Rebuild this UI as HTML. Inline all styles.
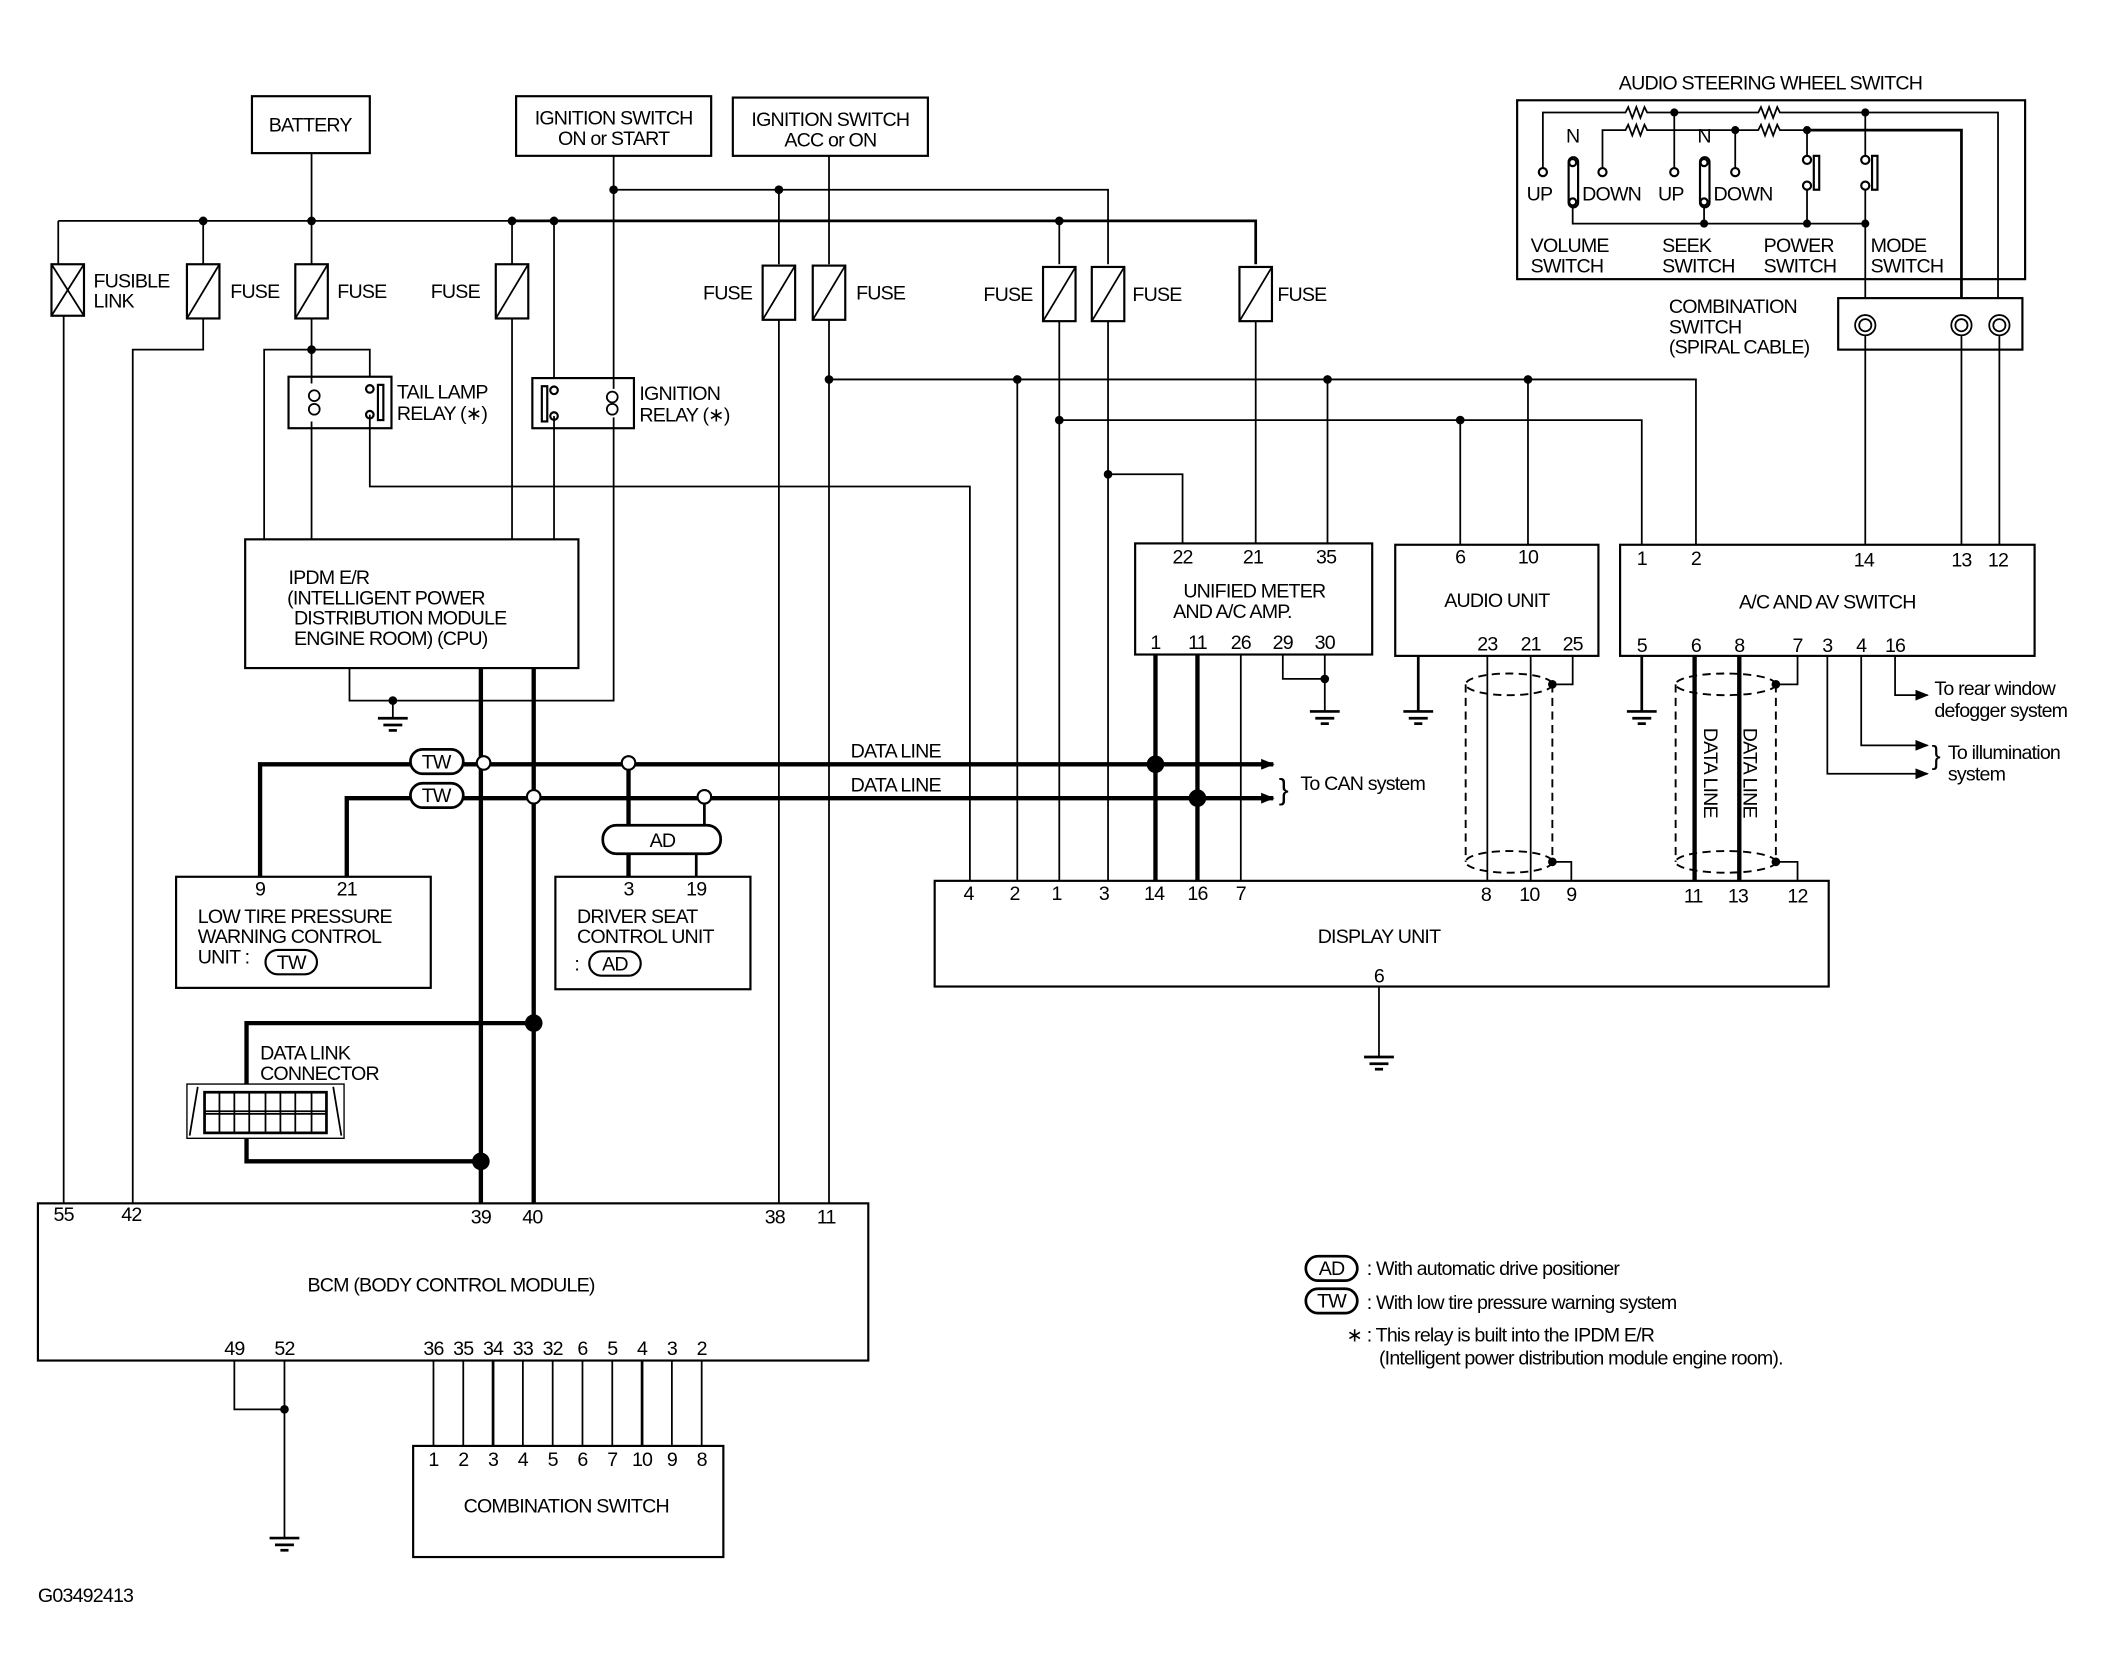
<!DOCTYPE html>
<html><head><meta charset="utf-8"><style>
html,body{margin:0;padding:0;background:#fff;}
svg{display:block;}
text{font-family:"Liberation Sans",sans-serif;font-size:14.5px;fill:#000;letter-spacing:-0.6px;}
.t{stroke:#000;stroke-width:1.3;fill:none;}
.k{stroke:#000;stroke-width:3.2;fill:none;}
.m{stroke:#000;stroke-width:2;fill:none;}
.d{stroke:#000;stroke-width:1.4;fill:none;stroke-dasharray:6 4;}
.b{stroke:#000;stroke-width:1.6;fill:#fff;}
</style></head><body>
<svg width="2124" height="1679" viewBox="0 0 1568 1239" preserveAspectRatio="none" xmlns="http://www.w3.org/2000/svg">
<defs>
<g id="fuse"><rect x="-12" y="0" width="24" height="40" class="b"/><line x1="-12" y1="40" x2="12" y2="0" class="t"/></g>
<g id="gnd"><line x1="-11" y1="0" x2="11" y2="0" class="m"/><line x1="-7" y1="5" x2="7" y2="5" class="m"/><line x1="-3" y1="9" x2="3" y2="9" class="m"/></g>
<marker id="ar" markerWidth="10" markerHeight="8" refX="9" refY="4" orient="auto" markerUnits="userSpaceOnUse"><path d="M0,0 L10,4 L0,8 z" fill="#000"/></marker>
</defs>

<!-- top boxes -->
<rect x="186" y="71" width="87" height="42" class="b"/><text x="229" y="97" text-anchor="middle">BATTERY</text>
<rect x="381" y="71" width="144" height="44" class="b"/><text x="453" y="92" text-anchor="middle">IGNITION SWITCH</text><text x="453" y="107" text-anchor="middle">ON or START</text>
<rect x="541" y="72" width="144" height="43" class="b"/><text x="613" y="93" text-anchor="middle">IGNITION SWITCH</text><text x="613" y="108" text-anchor="middle">ACC or ON</text>

<!-- buses -->
<path d="M230,113 V195" class="t"/>
<path d="M43,163 H378" class="t"/>
<path d="M378,163 H927 V195" class="m"/>
<path d="M453,115 V140 H818 V195" class="t"/>
<path d="M612,115 V195" class="t"/>
<path d="M575,140 V195" class="t"/>
<path d="M782,163 V195" class="t"/>
<g fill="#000"><circle cx="150" cy="163" r="3.2"/><circle cx="230" cy="163" r="3.2"/><circle cx="378" cy="163" r="3.2"/><circle cx="409" cy="163" r="3.2"/><circle cx="453" cy="140" r="3.2"/><circle cx="575" cy="140" r="3.2"/><circle cx="782" cy="163" r="3.2"/></g>
<path d="M150,163 V195" class="t"/><path d="M378,163 V195" class="t"/><path d="M409,163 V280" class="t"/>

<!-- fusible link -->
<rect x="38" y="195" width="24" height="38" class="b"/><line x1="38" y1="195" x2="62" y2="233" class="t"/><line x1="62" y1="195" x2="38" y2="233" class="t"/>
<path d="M43,163 V195 M47,233 V888" class="t"/>
<text x="69" y="212">FUSIBLE</text><text x="69" y="227">LINK</text>
<use href="#fuse" x="150" y="195"/><text x="170" y="220">FUSE</text>
<use href="#fuse" x="230" y="195"/><text x="249" y="220">FUSE</text>
<use href="#fuse" x="378" y="195"/><text x="318" y="220">FUSE</text>
<use href="#fuse" x="575" y="196"/><text x="519" y="221">FUSE</text>
<use href="#fuse" x="612" y="196"/><text x="632" y="221">FUSE</text>
<use href="#fuse" x="782" y="197"/><text x="726" y="222">FUSE</text>
<use href="#fuse" x="818" y="197"/><text x="836" y="222">FUSE</text>
<use href="#fuse" x="927" y="197"/><text x="943" y="222">FUSE</text>

<!-- left feeds -->
<path d="M150,235 V258 H98 V888" class="t"/>
<path d="M230,235 V278 M195,398 V258 H273 V278" class="t"/><circle cx="230" cy="258" r="3.2"/>
<!-- tail lamp relay -->
<rect x="213" y="278" width="76" height="38" class="b"/>
<path d="M230,278 V283 M230,311 V398" class="t"/>
<circle cx="232" cy="292" r="4" class="t"/><circle cx="232" cy="302" r="4" class="t"/>
<circle cx="273" cy="287" r="2.8" class="b"/><circle cx="273" cy="306" r="2.8" class="b"/>
<rect x="279" y="284" width="4" height="26" class="b"/>
<path d="M273,306 V359 H716 V650" class="t"/>
<text x="293" y="294">TAIL LAMP</text><text x="293" y="310">RELAY (∗)</text>
<!-- ignition relay -->
<rect x="393" y="279" width="75" height="37" class="b"/>
<rect x="400" y="285" width="4" height="26" class="b"/>
<circle cx="409" cy="288" r="2.8" class="b"/><circle cx="409" cy="307" r="2.8" class="b"/>
<path d="M409,307 V398" class="t"/>
<circle cx="452" cy="293" r="4" class="t"/><circle cx="452" cy="302" r="4" class="t"/>
<path d="M453,140 V287 M453,308 V517 H258 V493" class="t"/><circle cx="290" cy="517" r="3.2"/>
<path d="M290,517 V530" class="t"/><use href="#gnd" x="290" y="530"/>
<text x="472" y="295">IGNITION</text><text x="472" y="311">RELAY (∗)</text>
<path d="M378,235 V398" class="t"/>

<!-- IPDM -->
<rect x="181" y="398" width="246" height="95" class="b"/>
<text x="213" y="431">IPDM E/R</text><text x="212" y="446">(INTELLIGENT POWER</text><text x="217" y="461">DISTRIBUTION MODULE</text><text x="217" y="476">ENGINE ROOM) (CPU)</text>

<!-- ACC lines to BCM -->
<path d="M575,236 V888 M612,236 V888" class="t"/>
<path d="M612,280 H1252 V402" class="t"/>
<path d="M782,237 V650 M782,310 H1212 V402" class="t"/>
<path d="M818,237 V650 M818,350 H873 V401" class="t"/>
<path d="M927,237 V401" class="t"/>
<path d="M751,280 V650 M980,280 V401 M1128,280 V402 M1078,310 V402" class="t"/>
<g fill="#000"><circle cx="612" cy="280" r="3.2"/><circle cx="751" cy="280" r="3.2"/><circle cx="980" cy="280" r="3.2"/><circle cx="1128" cy="280" r="3.2"/><circle cx="782" cy="310" r="3.2"/><circle cx="1078" cy="310" r="3.2"/><circle cx="818" cy="350" r="3.2"/></g>

<!-- Unified meter -->
<rect x="838" y="401" width="175" height="82" class="b"/>
<text x="873" y="416" text-anchor="middle">22</text><text x="925" y="416" text-anchor="middle">21</text><text x="979" y="416" text-anchor="middle">35</text>
<text x="926" y="441" text-anchor="middle">UNIFIED METER</text><text x="866" y="456">AND A/C AMP.</text>
<text x="853" y="479" text-anchor="middle">1</text><text x="884" y="479" text-anchor="middle">11</text><text x="916" y="479" text-anchor="middle">26</text><text x="947" y="479" text-anchor="middle">29</text><text x="978" y="479" text-anchor="middle">30</text>
<path d="M947,483 V501 H978 M978,483 V525" class="t"/><circle cx="978" cy="501" r="3.2"/><use href="#gnd" x="978" y="525"/>
<path d="M853,483 V650 M884,483 V650" class="k"/>
<path d="M916,483 V650" class="t"/>

<!-- Audio unit -->
<rect x="1030" y="402" width="150" height="82" class="b"/>
<text x="1078" y="416" text-anchor="middle">6</text><text x="1128" y="416" text-anchor="middle">10</text>
<text x="1105" y="448" text-anchor="middle">AUDIO UNIT</text>
<text x="1098" y="480" text-anchor="middle">23</text><text x="1130" y="480" text-anchor="middle">21</text><text x="1161" y="480" text-anchor="middle">25</text>
<path d="M1047,484 V525" class="m"/><use href="#gnd" x="1047" y="525"/>
<path d="M1098,484 V650 M1130,484 V650" class="t"/>
<path d="M1161,484 V505 H1146 M1146,636 H1160 V650" class="t"/>
<ellipse cx="1114" cy="505" rx="32" ry="8" class="d"/><ellipse cx="1114" cy="636" rx="32" ry="8" class="d"/>
<path d="M1082,505 V636 M1146,505 V636" class="d"/>
<circle cx="1146" cy="505" r="3.2"/><circle cx="1146" cy="636" r="3.2"/>

<!-- A/C and AV switch -->
<rect x="1196" y="402" width="306" height="82" class="b"/>
<text x="1212" y="417" text-anchor="middle">1</text><text x="1252" y="417" text-anchor="middle">2</text><text x="1376" y="418" text-anchor="middle">14</text><text x="1448" y="418" text-anchor="middle">13</text><text x="1475" y="418" text-anchor="middle">12</text>
<text x="1349" y="449" text-anchor="middle">A/C AND AV SWITCH</text>
<text x="1212" y="481" text-anchor="middle">5</text><text x="1252" y="481" text-anchor="middle">6</text><text x="1284" y="481" text-anchor="middle">8</text><text x="1327" y="481" text-anchor="middle">7</text><text x="1349" y="481" text-anchor="middle">3</text><text x="1374" y="481" text-anchor="middle">4</text><text x="1399" y="481" text-anchor="middle">16</text>
<path d="M1212,484 V525" class="m"/><use href="#gnd" x="1212" y="525"/>
<path d="M1251,484 V650 M1284,484 V650" class="k"/>
<path d="M1327,484 V505 H1311 M1311,636 H1327 V650" class="t"/>
<ellipse cx="1274" cy="505" rx="37" ry="8" class="d"/><ellipse cx="1274" cy="636" rx="37" ry="8" class="d"/>
<path d="M1237,505 V636 M1311,505 V636" class="d"/>
<circle cx="1311" cy="505" r="3.2"/><circle cx="1311" cy="636" r="3.2"/>
<text transform="translate(1258,537) rotate(90)">DATA LINE</text>
<text transform="translate(1287,537) rotate(90)">DATA LINE</text>
<path d="M1349,484 V571 H1423" class="t" marker-end="url(#ar)"/>
<path d="M1374,484 V550 H1423" class="t" marker-end="url(#ar)"/>
<path d="M1399,484 V513 H1423" class="t" marker-end="url(#ar)"/>
<text x="1428" y="513">To rear window</text><text x="1428" y="529">defogger system</text>
<text x="1426" y="564" style="font-size:20px">}</text>
<text x="1438" y="560">To illumination</text><text x="1438" y="576">system</text>

<!-- Audio steering wheel switch -->
<text x="1307" y="66" text-anchor="middle">AUDIO STEERING WHEEL SWITCH</text>
<rect x="1120" y="74" width="375" height="132" class="b"/>
<path d="M1139,124 V83 H1200 l2,-4 3,8 3,-8 3,8 3,-8 2,4 H1298 l2,-4 3,8 3,-8 3,8 3,-8 2,4 H1475 V220" class="t"/>
<path d="M1183,124 V96 H1200 l2,-4 3,8 3,-8 3,8 3,-8 2,4 H1298 l2,-4 3,8 3,-8 3,8 3,-8 2,4 H1334" class="t"/>
<path d="M1334,96 H1448 V220" class="m"/>
<path d="M1236,83 V124 M1281,96 V124" class="t"/>
<g fill="#000"><circle cx="1236" cy="83" r="3"/><circle cx="1377" cy="83" r="3"/><circle cx="1281" cy="96" r="3"/><circle cx="1334" cy="96" r="3"/><circle cx="1258" cy="165" r="3"/><circle cx="1334" cy="165" r="3"/><circle cx="1377" cy="165" r="3"/></g>
<circle cx="1139" cy="127" r="3" class="b"/><circle cx="1183" cy="127" r="3" class="b"/><circle cx="1236" cy="127" r="3" class="b"/><circle cx="1281" cy="127" r="3" class="b"/>
<rect x="1158" y="116" width="7" height="37" rx="3.5" class="b"/><circle cx="1161" cy="120" r="2.6" class="b"/><circle cx="1161" cy="149" r="2.6" class="b"/>
<rect x="1255" y="116" width="7" height="37" rx="3.5" class="b"/><circle cx="1258" cy="120" r="2.6" class="b"/><circle cx="1258" cy="149" r="2.6" class="b"/>
<path d="M1161,152 V165 H1377 M1258,152 V165" class="t"/>
<path d="M1334,96 V115 M1334,140 V165 M1377,83 V115 M1377,140 V220" class="t"/>
<circle cx="1334" cy="118" r="3" class="b"/><circle cx="1334" cy="137" r="3" class="b"/><rect x="1339" y="115" width="4" height="25" class="b"/>
<circle cx="1377" cy="118" r="3" class="b"/><circle cx="1377" cy="137" r="3" class="b"/><rect x="1382" y="115" width="4" height="25" class="b"/>
<text x="1161" y="105" text-anchor="middle">N</text><text x="1258" y="105" text-anchor="middle">N</text>
<text x="1127" y="148">UP</text><text x="1168" y="148">DOWN</text><text x="1224" y="148">UP</text><text x="1265" y="148">DOWN</text>
<text x="1130" y="186">VOLUME</text><text x="1130" y="201">SWITCH</text>
<text x="1227" y="186">SEEK</text><text x="1227" y="201">SWITCH</text>
<text x="1302" y="186">POWER</text><text x="1302" y="201">SWITCH</text>
<text x="1381" y="186">MODE</text><text x="1381" y="201">SWITCH</text>
<!-- combination switch spiral -->
<rect x="1357" y="220" width="136" height="38" class="b"/>
<text x="1232" y="231">COMBINATION</text><text x="1232" y="246">SWITCH</text><text x="1232" y="261">(SPIRAL CABLE)</text>
<g class="t"><circle cx="1377" cy="240" r="7.5"/><circle cx="1377" cy="240" r="4.5"/><circle cx="1448" cy="240" r="7.5"/><circle cx="1448" cy="240" r="4.5"/><circle cx="1476" cy="240" r="7.5"/><circle cx="1476" cy="240" r="4.5"/></g>
<path d="M1377,248 V402 M1448,248 V402 M1476,248 V402" class="t"/>

<!-- data lines -->
<path d="M192,647 V564 H940" class="k" marker-end="url(#ar)"/>
<path d="M256,647 V589 H940" class="k" marker-end="url(#ar)"/>
<rect x="303" y="553" width="39" height="18" rx="9" class="b" style="stroke-width:2"/><text x="322" y="567" text-anchor="middle">TW</text>
<rect x="303" y="578" width="39" height="18" rx="9" class="b" style="stroke-width:2"/><text x="322" y="592" text-anchor="middle">TW</text>
<text x="628" y="559">DATA LINE</text><text x="628" y="584">DATA LINE</text>
<text x="944" y="590" style="font-size:22px">}</text><text x="960" y="583">To CAN system</text>
<path d="M355,493 V888 M394,493 V888" class="k"/>
<path d="M464,564 V647" class="k"/><path d="M520,589 V609 M514,630 V647" class="m"/>
<circle cx="357" cy="563" r="5" class="b"/><circle cx="394" cy="588" r="5" class="b"/><circle cx="464" cy="563" r="5" class="b"/><circle cx="520" cy="588" r="5" class="b"/>
<circle cx="853" cy="564" r="6.5"/><circle cx="884" cy="589" r="6.5"/>
<rect x="445" y="609" width="87" height="21" rx="10" class="b" style="stroke-width:2"/><text x="489" y="625" text-anchor="middle">AD</text>

<!-- low tire & driver seat -->
<rect x="130" y="647" width="188" height="82" class="b"/>
<text x="192" y="661" text-anchor="middle">9</text><text x="256" y="661" text-anchor="middle">21</text>
<text x="146" y="681">LOW TIRE PRESSURE</text><text x="146" y="696">WARNING CONTROL</text><text x="146" y="711">UNIT :</text>
<rect x="196" y="701" width="38" height="18" rx="9" class="b"/><text x="215" y="715" text-anchor="middle">TW</text>
<rect x="410" y="647" width="144" height="83" class="b"/>
<text x="464" y="661" text-anchor="middle">3</text><text x="514" y="661" text-anchor="middle">19</text>
<text x="426" y="681">DRIVER SEAT</text><text x="426" y="696">CONTROL UNIT</text><text x="424" y="716">:</text>
<rect x="435" y="702" width="38" height="18" rx="9" class="b"/><text x="454" y="716" text-anchor="middle">AD</text>

<!-- data link connector -->
<path d="M394,755 H182 V800 M182,840 V857 H355" class="k"/>
<circle cx="394" cy="755" r="6.5"/><circle cx="355" cy="857" r="6.5"/>
<text x="192" y="782">DATA LINK</text><text x="192" y="797">CONNECTOR</text>
<path d="M138,800 H254 L254,840 H138 Z" class="b" style="stroke-width:1"/>
<path d="M146,802 L140,838 M246,802 L252,838" class="t"/>
<rect x="151" y="806" width="90" height="30" class="m"/>
<path d="M151,820 H241 M151,822 H241" class="t"/>
<path d="M162,806 V836 M173,806 V836 M184,806 V836 M196,806 V836 M207,806 V836 M218,806 V836 M230,806 V836" class="t"/>

<!-- Display unit -->
<rect x="690" y="650" width="660" height="78" class="b"/>
<g text-anchor="middle"><text x="715" y="664">4</text><text x="749" y="664">2</text><text x="780" y="664">1</text><text x="815" y="664">3</text><text x="852" y="664">14</text><text x="884" y="664">16</text><text x="916" y="664">7</text><text x="1097" y="665">8</text><text x="1129" y="665">10</text><text x="1160" y="665">9</text><text x="1250" y="666">11</text><text x="1283" y="666">13</text><text x="1327" y="666">12</text>
<text x="1018" y="696">DISPLAY UNIT</text><text x="1018" y="725">6</text></g>
<path d="M1018,728 V780" class="t"/><use href="#gnd" x="1018" y="780"/>

<!-- BCM -->
<rect x="28" y="888" width="613" height="116" class="b"/>
<g text-anchor="middle"><text x="47" y="901">55</text><text x="97" y="901">42</text><text x="355" y="903">39</text><text x="393" y="903">40</text><text x="572" y="903">38</text><text x="610" y="903">11</text>
<text x="333" y="953">BCM (BODY CONTROL MODULE)</text>
<text x="173" y="1000">49</text><text x="210" y="1000">52</text>
<text x="320" y="1000">36</text><text x="342" y="1000">35</text><text x="364" y="1000">34</text><text x="386" y="1000">33</text><text x="408" y="1000">32</text><text x="430" y="1000">6</text><text x="452" y="1000">5</text><text x="474" y="1000">4</text><text x="496" y="1000">3</text><text x="518" y="1000">2</text></g>
<path d="M173,1004 V1040 H210 M210,1004 V1135" class="t"/><circle cx="210" cy="1040" r="3.2"/><use href="#gnd" x="210" y="1135"/>
<path d="M320,1004 V1067 M342,1004 V1067 M386,1004 V1067 M408,1004 V1067 M430,1004 V1067 M452,1004 V1067 M496,1004 V1067 M518,1004 V1067" class="t"/>
<path d="M364,1004 V1067 M474,1004 V1067" class="m"/>
<rect x="305" y="1067" width="229" height="82" class="b"/>
<g text-anchor="middle"><text x="320" y="1082">1</text><text x="342" y="1082">2</text><text x="364" y="1082">3</text><text x="386" y="1082">4</text><text x="408" y="1082">5</text><text x="430" y="1082">6</text><text x="452" y="1082">7</text><text x="474" y="1082">10</text><text x="496" y="1082">9</text><text x="518" y="1082">8</text>
<text x="418" y="1116">COMBINATION SWITCH</text></g>

<!-- legend -->
<rect x="964" y="927" width="38" height="18" rx="9" class="b" style="stroke-width:2"/><text x="983" y="941" text-anchor="middle">AD</text>
<text x="1009" y="941">: With automatic drive positioner</text>
<rect x="964" y="951" width="38" height="18" rx="9" class="b" style="stroke-width:2"/><text x="983" y="965" text-anchor="middle">TW</text>
<text x="1009" y="966">: With low tire pressure warning system</text>
<text x="994" y="990">∗ : This relay is built into the IPDM E/R</text>
<text x="1018" y="1007">(Intelligent power distribution module engine room).</text>
<text x="28" y="1182">G03492413</text>
</svg>
</body></html>
